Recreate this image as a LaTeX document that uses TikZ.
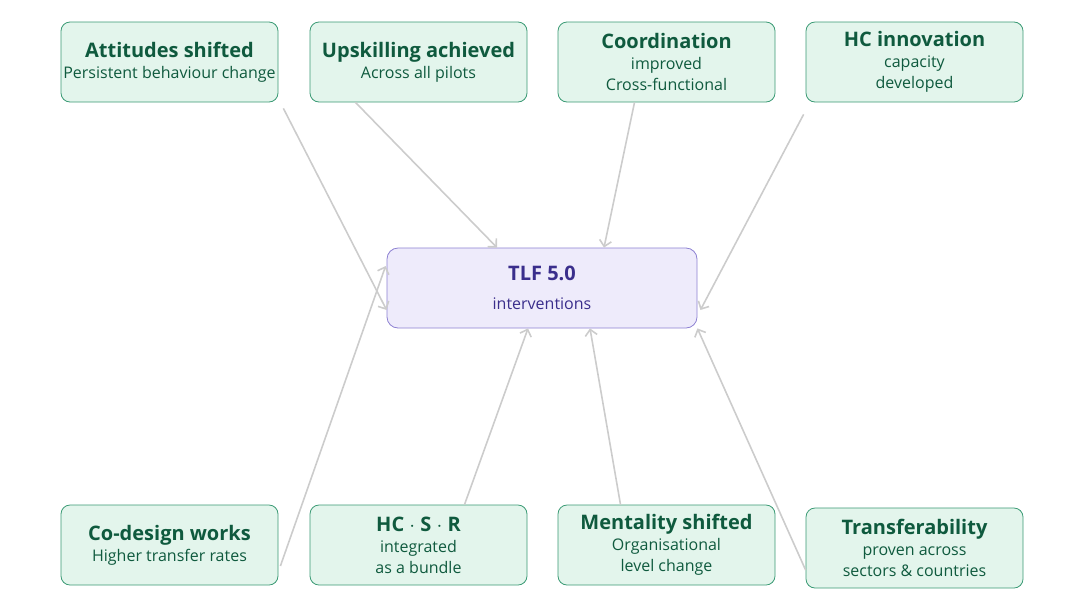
\documentclass[tikz,border=0pt]{standalone}
\usepackage{fontspec}
\setmainfont{Open Sans}
\usetikzlibrary{calc,positioning,arrows.meta}
\definecolor{boxfill}{HTML}{E3F5EC}
\definecolor{boxline}{HTML}{3A9A74}
\definecolor{boxtext}{HTML}{0F5A3E}
\definecolor{hubfill}{HTML}{EEEBFB}
\definecolor{hubline}{HTML}{8C80D2}
\definecolor{hubtext}{HTML}{3A2E8C}

\begin{document}
\begin{tikzpicture}[
    x=1pt, y=-1pt,
    box/.style={draw=boxline, fill=boxfill, rounded corners=9pt, line width=0.8pt,
      minimum width=217pt, minimum height=80pt, text=boxtext, align=center,
      inner sep=0pt, font=\fontsize{16}{21}\selectfont},
    hub/.style={draw=hubline, fill=hubfill, rounded corners=11pt, line width=0.8pt,
      minimum width=310pt, minimum height=80pt, text=hubtext, align=center,
      font=\fontsize{16}{29}\selectfont},
    arr/.style={draw=black!20, line width=1.6pt, -{Straight Barb[length=6pt,width=12pt]}},
  ]
  \useasboundingbox (0,0) rectangle (1081,606);

  % hub
  \node[hub] (tlf) at (542,288) {{\fontsize{20}{24}\selectfont\bfseries TLF 5.0}\\interventions};

  % top row
  \node[box] (att) at (169.5,62) {{\fontsize{20}{26}\selectfont\bfseries Attitudes shifted}\\Persistent behaviour change};
  \node[box] (up) at (418.5,62) {{\fontsize{20}{26}\selectfont\bfseries Upskilling achieved}\\Across all pilots};
  \node[box] (coord) at (666.5,62) {{\fontsize{20}{25}\selectfont\bfseries Coordination}\\improved\\Cross-functional};
  \node[box] (hci) at (914.5,62) {{\fontsize{20}{25}\selectfont\bfseries HC innovation}\\capacity\\developed};

  % bottom row
  \node[box] (cod) at (169.5,545) {{\fontsize{20}{26}\selectfont\bfseries Co-design works}\\Higher transfer rates};
  \node[box] (hcsr) at (418.5,545) {{\fontsize{20}{25}\selectfont\bfseries HC $\cdot$ S $\cdot$ R}\\integrated\\as a bundle};
  \node[box] (ment) at (666.5,545) {{\fontsize{20}{25}\selectfont\bfseries Mentality shifted}\\Organisational\\level change};
  \node[box] (trans) at (914.5,548) {{\fontsize{20}{28}\selectfont\bfseries Transferability}\\proven across\\sectors \& countries};

  % links
  \draw[arr] ([xshift=5,yshift=-6]att.south east) -- ([yshift=-22]tlf.west);
  \draw[arr] ([xshift=-63]up.south) -- ([xshift=-45]tlf.north);
  \draw[arr] ([xshift=-32]coord.south) -- ([xshift=62]tlf.north);
  \draw[arr] ([xshift=-2,yshift=-12]hci.south west) -- ([xshift=3,yshift=-22]tlf.east);
  \draw[arr] ([xshift=2,yshift=-21]cod.east) -- ([xshift=-1,yshift=22]tlf.west);
  \draw[arr] ([xshift=46]hcsr.north) -- ([xshift=-14]tlf.south);
  \draw[arr] ([xshift=-46]ment.north) -- ([xshift=48]tlf.south);
  \draw[arr] ([yshift=-22]trans.west) -- (tlf.south east);
\end{tikzpicture}
\end{document}
